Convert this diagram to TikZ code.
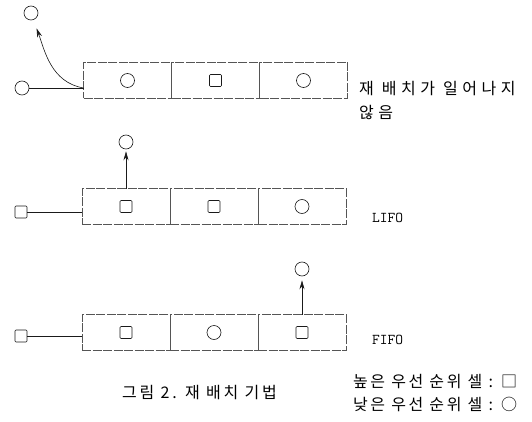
\documentclass[tikz,border=0pt]{standalone}
\usepackage{fontspec}
\setmainfont{Liberation Serif}
\newfontfamily\kr{Noto Sans CJK KR}
\usetikzlibrary{arrows.meta,positioning,calc}
\definecolor{ink}{HTML}{1A1A1A}
\definecolor{frame}{HTML}{555555}

\begin{document}
\begin{tikzpicture}[x=1pt,y=-1pt,
  cell/.style={draw=frame,thin,dash pattern=on 9pt off 1.5pt,minimum width=88pt,minimum height=36pt,inner sep=0pt,outer sep=0pt},
  hi/.style={draw=ink,semithick,rounded corners=1pt,minimum size=12pt,inner sep=0pt},
  lo/.style={draw=ink,semithick,circle,minimum size=14pt,inner sep=0pt},
  feed/.style={ink,semithick},
  move/.style={ink,semithick,-{Stealth[length=9pt,width=5pt]}},
  lbl/.style={font=\kr\addfontfeatures{LetterSpace=28}\fontsize{16}{24}\selectfont,anchor=west,align=left,inner sep=0pt},
  capt/.style={lbl,font=\kr\addfontfeatures{LetterSpace=17}\fontsize{16}{24}\selectfont},
  key/.style={lbl,font=\kr\addfontfeatures{LetterSpace=16}\fontsize{16}{24}\selectfont},
  code/.style={font=\ttfamily\fontsize{15}{16}\selectfont,anchor=west,inner sep=0pt}
]
  \useasboundingbox (0,0) rectangle (532,422);

  % Row 1: no relocation
  \node[cell] (a1) at (127.5,80.5) {};
  \node[cell,right=0pt of a1] (a2) {};
  \node[cell,right=0pt of a2] (a3) {};
  \node[lo] (a1m) at (a1) {};
  \node[hi] (a2m) at (a2) {};
  \node[lo] (a3m) at (a3) {};
  \node[lo] (ain) at (22,88) {};
  \node[lo] (aout) at (31,13) {};
  \coordinate (aj) at (a1.west |- ain);
  \draw[feed] (ain) -- (aj);
  \draw[move,shorten >=9pt] (aj) to[out=170,in=-70] (aout.-70);
  \node[lbl] (anote) at (359,100) {재 배치가 일어나지\\않음};

  % Row 2: LIFO
  \node[cell] (b1) at (126,206.5) {};
  \node[cell,right=0pt of b1] (b2) {};
  \node[cell,right=0pt of b2] (b3) {};
  \node[hi] (b1m) at (b1) {};
  \node[hi] (b2m) at (b2) {};
  \node[lo] (b3m) at (b3) {};
  \node[hi] (bin) at (21,212) {};
  \node[lo] (bout) at (b1.north |- 0,142) {};
  \draw[feed] (bin) -- (b1.west |- bin);
  \draw[move,shorten >=2pt] (b1.north) -- (bout);
  \node[code] (bnote) at (372,218) {LIFO};

  % Row 3: FIFO
  \node[cell] (c1) at (126,332.5) {};
  \node[cell,right=0pt of c1] (c2) {};
  \node[cell,right=0pt of c2] (c3) {};
  \node[hi] (c1m) at (c1) {};
  \node[lo] (c2m) at (c2) {};
  \node[hi] (c3m) at (c3) {};
  \node[hi] (cin) at (21,336) {};
  \node[lo] (cout) at (c3.north |- 0,269) {};
  \draw[feed] (cin) -- (c1.west |- cin);
  \draw[move,shorten >=4pt] (c3.north) -- (cout);
  \node[code] (cnote) at (372,340) {FIFO};

  % Caption and legend
  \node[capt] (cap) at (122,393) {그림 2. 재 배치 기법};
  \node[key] (keyhi) at (353,382) {높은 우선 순위 셀 : □};
  \node[key] (keylo) at (353,404) {낮은 우선 순위 셀 : ○};
\end{tikzpicture}
\end{document}
